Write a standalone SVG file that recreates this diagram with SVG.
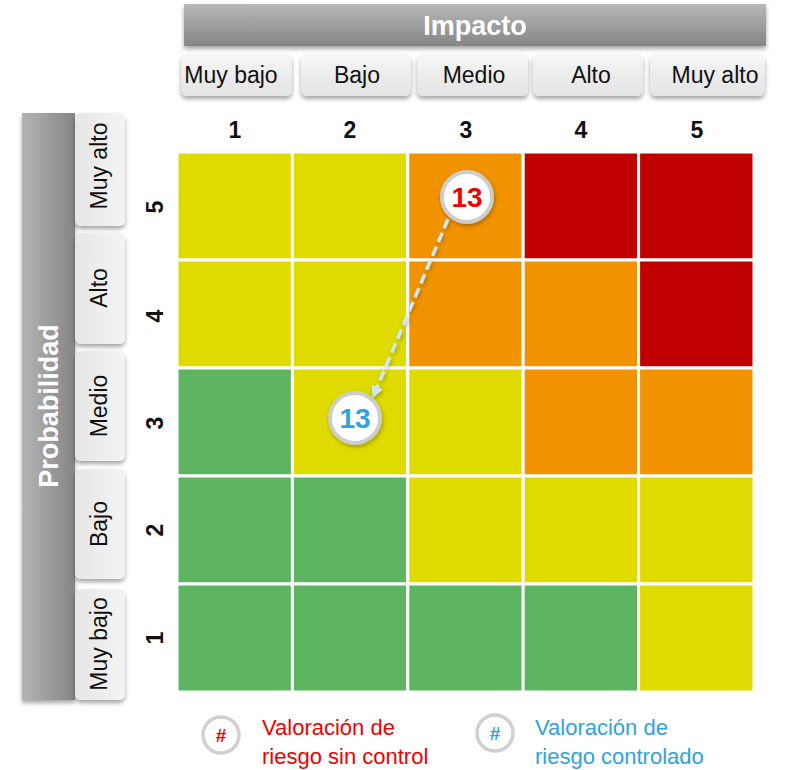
<svg xmlns="http://www.w3.org/2000/svg" width="792" height="770" viewBox="0 0 792 770">
<defs>
<linearGradient id="gH" x1="0" y1="0" x2="0" y2="1"><stop offset="0" stop-color="#b8b8b8"/><stop offset="1" stop-color="#858585"/></linearGradient>
<linearGradient id="gV" x1="0" y1="0" x2="1" y2="0"><stop offset="0" stop-color="#b4b4b4"/><stop offset="1" stop-color="#858585"/></linearGradient>
<linearGradient id="gT" x1="0" y1="0" x2="0" y2="1"><stop offset="0" stop-color="#f6f6f6"/><stop offset="1" stop-color="#e3e3e3"/></linearGradient>
<linearGradient id="gTV" x1="0" y1="0" x2="1" y2="0"><stop offset="0" stop-color="#e6e6e6"/><stop offset="1" stop-color="#f4f4f4"/></linearGradient>
<filter id="sh" x="-20%" y="-20%" width="140%" height="150%"><feDropShadow dx="0" dy="3" stdDeviation="2" flood-color="#000" flood-opacity="0.35"/></filter>
<filter id="shs" x="-30%" y="-30%" width="160%" height="160%"><feDropShadow dx="1" dy="2" stdDeviation="2" flood-color="#000" flood-opacity="0.3"/></filter>
<marker id="ah" markerWidth="12" markerHeight="12" refX="11" refY="6" orient="auto" markerUnits="userSpaceOnUse" viewBox="0 0 12 12"><path d="M0,0 L12,6 L0,12 Z" fill="#cfe8f6"/></marker>
</defs>
<style>
.hd{font-family:"Liberation Sans",Arial,sans-serif;font-weight:bold;fill:#fff;font-size:27px;text-anchor:middle}
.tab{fill:url(#gT);filter:url(#sh)}
.tabv{fill:url(#gTV);filter:url(#sh)}
.tl{font-family:"Liberation Sans",Arial,sans-serif;font-size:23px;fill:#111;text-anchor:middle}
.num{font-family:"Liberation Sans",Arial,sans-serif;font-size:23px;font-weight:bold;fill:#111;text-anchor:middle}
.cell{stroke:#fff;stroke-width:3}
.Y{fill:#dfdb00}.O{fill:#f19300}.R{fill:#c00000}.G{fill:#5db561}
.bub{fill:#fff;stroke:#cdcdcd;stroke-width:4}
.bt{font-family:"Liberation Sans",Arial,sans-serif;font-size:28px;font-weight:bold;text-anchor:middle}
.lg{font-family:"Liberation Sans",Arial,sans-serif;font-size:22px}
</style>

<g id="impacto-header">
<rect x="184" y="4" width="582" height="42" fill="url(#gH)" filter="url(#sh)"/>
<text class="hd" x="475" y="35">Impacto</text>
</g>
<g id="impact-tabs">
<rect class="tab" x="181" y="54" width="111" height="42" rx="6"/>
<rect class="tab" x="301" y="54" width="110" height="42" rx="6"/>
<rect class="tab" x="417" y="54" width="111" height="42" rx="6"/>
<rect class="tab" x="533" y="54" width="110" height="42" rx="6"/>
<rect class="tab" x="650" y="54" width="115" height="42" rx="6"/>
<text class="tl" x="231" y="83">Muy bajo</text>
<text class="tl" x="357" y="83">Bajo</text>
<text class="tl" x="474" y="83">Medio</text>
<text class="tl" x="591" y="83">Alto</text>
<text class="tl" x="715" y="83">Muy alto</text>
</g>
<g id="impact-numbers">
<text class="num" x="235" y="138">1</text>
<text class="num" x="350" y="138">2</text>
<text class="num" x="466" y="138">3</text>
<text class="num" x="581" y="138">4</text>
<text class="num" x="697" y="138">5</text>
</g>

<g id="probabilidad-header">
<rect x="22" y="113" width="53" height="587" fill="url(#gV)" filter="url(#sh)"/>
<text class="hd" transform="translate(58,406) rotate(-90)">Probabilidad</text>
</g>
<g id="prob-tabs">
<rect class="tabv" x="75" y="113" width="50" height="113" rx="6"/>
<rect class="tabv" x="75" y="233" width="50" height="111" rx="6"/>
<rect class="tabv" x="75" y="351" width="50" height="110" rx="6"/>
<rect class="tabv" x="75" y="469" width="50" height="110" rx="6"/>
<rect class="tabv" x="75" y="589" width="50" height="111" rx="6"/>
<text class="tl" transform="translate(107,166) rotate(-90)">Muy alto</text>
<text class="tl" transform="translate(107,288) rotate(-90)">Alto</text>
<text class="tl" transform="translate(107,406) rotate(-90)">Medio</text>
<text class="tl" transform="translate(107,524) rotate(-90)">Bajo</text>
<text class="tl" transform="translate(107,644) rotate(-90)">Muy bajo</text>
</g>
<g id="prob-numbers">
<text class="num" transform="translate(163,207) rotate(-90)">5</text>
<text class="num" transform="translate(163,316) rotate(-90)">4</text>
<text class="num" transform="translate(163,423) rotate(-90)">3</text>
<text class="num" transform="translate(163,530) rotate(-90)">2</text>
<text class="num" transform="translate(163,638) rotate(-90)">1</text>
</g>

<g id="matrix">
<rect class="cell Y" x="177" y="152" width="115.4" height="108"/>
<rect class="cell Y" x="292.4" y="152" width="115.4" height="108"/>
<rect class="cell O" x="407.8" y="152" width="115.4" height="108"/>
<rect class="cell R" x="523.2" y="152" width="115.4" height="108"/>
<rect class="cell R" x="638.6" y="152" width="115.4" height="108"/>

<rect class="cell Y" x="177" y="260" width="115.4" height="108"/>
<rect class="cell Y" x="292.4" y="260" width="115.4" height="108"/>
<rect class="cell O" x="407.8" y="260" width="115.4" height="108"/>
<rect class="cell O" x="523.2" y="260" width="115.4" height="108"/>
<rect class="cell R" x="638.6" y="260" width="115.4" height="108"/>

<rect class="cell G" x="177" y="368" width="115.4" height="108"/>
<rect class="cell Y" x="292.4" y="368" width="115.4" height="108"/>
<rect class="cell Y" x="407.8" y="368" width="115.4" height="108"/>
<rect class="cell O" x="523.2" y="368" width="115.4" height="108"/>
<rect class="cell O" x="638.6" y="368" width="115.4" height="108"/>

<rect class="cell G" x="177" y="476" width="115.4" height="108"/>
<rect class="cell G" x="292.4" y="476" width="115.4" height="108"/>
<rect class="cell Y" x="407.8" y="476" width="115.4" height="108"/>
<rect class="cell Y" x="523.2" y="476" width="115.4" height="108"/>
<rect class="cell Y" x="638.6" y="476" width="115.4" height="108"/>

<rect class="cell G" x="177" y="584" width="115.4" height="108"/>
<rect class="cell G" x="292.4" y="584" width="115.4" height="108"/>
<rect class="cell G" x="407.8" y="584" width="115.4" height="108"/>
<rect class="cell G" x="523.2" y="584" width="115.4" height="108"/>
<rect class="cell Y" x="638.6" y="584" width="115.4" height="108"/>
</g>

<g id="connectors">
<line x1="448" y1="219" x2="373" y2="397" stroke="#cfe8f6" stroke-width="3.5" stroke-dasharray="10,5" marker-end="url(#ah)" filter="url(#shs)"/>
</g>

<g id="bubble-sin-control">
<circle class="bub" cx="467" cy="197" r="25" filter="url(#shs)"/>
<text class="bt" x="467" y="207" fill="#f00000">13</text>
</g>
<g id="bubble-controlado">
<circle class="bub" cx="355" cy="418" r="25" filter="url(#shs)"/>
<text class="bt" x="355" y="428" fill="#2fa3dd">13</text>
</g>

<g id="legend-sin-control">
<circle cx="221" cy="735" r="18" fill="#fff" stroke="#d0d0d0" stroke-width="3.5"/>
<text x="221" y="742" font-family="Liberation Sans, Arial, sans-serif" font-size="19" font-weight="bold" fill="#f00000" text-anchor="middle">#</text>
<text class="lg" x="262" y="735" fill="#f00000">Valoración de</text>
<text class="lg" x="262" y="764" fill="#f00000">riesgo sin control</text>
</g>
<g id="legend-controlado">
<circle cx="495" cy="733" r="18" fill="#fff" stroke="#d0d0d0" stroke-width="3.5"/>
<text x="495" y="740" font-family="Liberation Sans, Arial, sans-serif" font-size="19" font-weight="bold" fill="#2fa3dd" text-anchor="middle">#</text>
<text class="lg" x="535" y="735" fill="#2fa3dd">Valoración de</text>
<text class="lg" x="535" y="764" fill="#2fa3dd">riesgo controlado</text>
</g>
</svg>
